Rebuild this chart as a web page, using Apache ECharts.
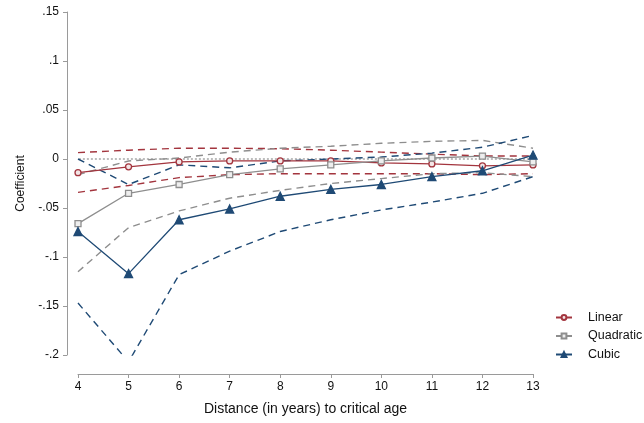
<!DOCTYPE html>
<html>
<head>
<meta charset="utf-8">
<script src="https://cdn.jsdelivr.net/npm/echarts@6/dist/echarts.min.js"></script>
<style>
  html, body { margin: 0; padding: 0; background: #fff; }
  #chart { width: 644px; height: 423px; }
</style>
</head>
<body>
<div id="chart"></div>
<script>
// Distance (years) to the critical age
const distance = [4, 5, 6, 7, 8, 9, 10, 11, 12, 13];

// Point estimates and confidence bounds for each specification
const linear   = [-0.014, -0.008, -0.003, -0.002, -0.002, -0.002, -0.004, -0.005, -0.007, -0.006];
const linearHi = [0.0065, 0.009, 0.011, 0.011, 0.0105, 0.009, 0.007, 0.005, 0.003, 0.003];
const linearLo = [-0.034, -0.027, -0.019, -0.016, -0.015, -0.015, -0.015, -0.015, -0.016, -0.015];

const quadratic   = [-0.066, -0.035, -0.026, -0.016, -0.010, -0.006, -0.002, 0.001, 0.003, -0.003];
const quadraticHi = [-0.016, -0.002, 0.001, 0.007, 0.011, 0.013, 0.016, 0.018, 0.019, 0.011];
const quadraticLo = [-0.115, -0.070, -0.053, -0.040, -0.032, -0.025, -0.020, -0.015, -0.014, -0.018];

const cubic   = [-0.074, -0.117, -0.062, -0.051, -0.038, -0.031, -0.026, -0.018, -0.012, 0.004];
const cubicHi = [0.000, -0.026, -0.006, -0.009, -0.002, 0.000, 0.002, 0.006, 0.012, 0.024];
const cubicLo = [-0.147, -0.207, -0.118, -0.094, -0.074, -0.062, -0.052, -0.044, -0.035, -0.018];

// Y tick labels from -.2 up to .15
const yTickLabels = ['-.2', '-.15', '-.1', '-.05', '0', '.05', '.1', '.15'];

const RED = '#A3353E';
const GRAY = '#8E8E8E';
const BLUE = '#1F4A75';
const FONT = 'Liberation Sans, Arial, sans-serif';

const pairs = (ys) => distance.map((x, i) => [x, ys[i]]);

function ciSeries(name, ys, color) {
  return {
    name: name,
    type: 'line',
    data: pairs(ys),
    symbol: 'none',
    silent: true,
    z: 2,
    lineStyle: { color: color, width: 1.4, type: [7, 5] }
  };
}

function estSeries(name, ys, color, symbol, size, fill) {
  return {
    name: name,
    type: 'line',
    data: pairs(ys),
    symbol: symbol,
    symbolSize: size,
    showSymbol: true,
    z: 3,
    lineStyle: { color: color, width: 1.3 },
    itemStyle: { color: fill, borderColor: color, borderWidth: 1.3 }
  };
}

const chart = echarts.init(document.getElementById('chart'), null, { renderer: 'canvas' });

chart.setOption({
  animation: false,
  backgroundColor: '#ffffff',
  textStyle: { fontFamily: FONT },
  grid: { left: 78, right: 111, top: 12, bottom: 68 },
  legend: {
    data: ['Linear', 'Quadratic', 'Cubic'],
    orient: 'vertical',
    left: 555,
    top: 311,
    padding: 0,
    itemWidth: 16,
    itemHeight: 6,
    itemGap: 5.5,
    textStyle: { fontFamily: FONT, fontSize: 12.5, color: '#111', padding: [0, 0, 0, 11] }
  },
  xAxis: {
    type: 'value',
    min: 4,
    max: 13,
    interval: 1,
    offset: 19,
    name: 'Distance (in years) to critical age',
    nameLocation: 'middle',
    nameGap: 28,
    nameTextStyle: { fontFamily: FONT, fontSize: 14, color: '#111' },
    axisLine: { show: true, onZero: false, lineStyle: { color: '#9a9a9a', width: 1 } },
    axisTick: { show: true, length: 4, lineStyle: { color: '#9a9a9a' } },
    axisLabel: { fontFamily: FONT, fontSize: 12, color: '#111', margin: 7 },
    splitLine: { show: false }
  },
  yAxis: {
    type: 'value',
    min: -0.2,
    max: 0.15,
    interval: 0.05,
    offset: 11,
    name: 'Coefficient',
    nameLocation: 'middle',
    nameGap: 40,
    nameRotate: 90,
    nameTextStyle: { fontFamily: FONT, fontSize: 12, color: '#111' },
    axisLine: { show: true, onZero: false, lineStyle: { color: '#9a9a9a', width: 1 } },
    axisTick: { show: true, length: 4, lineStyle: { color: '#9a9a9a' } },
    axisLabel: {
      fontFamily: FONT, fontSize: 12, color: '#111', margin: 8,
      formatter: (v) => yTickLabels[Math.round((v + 0.2) / 0.05)]
    },
    splitLine: { show: false }
  },
  series: [
    // reference line at zero, running across the whole plot region
    {
      name: 'zero',
      type: 'line',
      data: [[3.78, 0], [13.2, 0]],
      symbol: 'none',
      silent: true,
      clip: false,
      z: 1,
      lineStyle: { color: '#9a9a9a', width: 1.3, type: [2, 2] }
    },
    ciSeries('Linear CI high', linearHi, RED),
    ciSeries('Linear CI low', linearLo, RED),
    ciSeries('Quadratic CI high', quadraticHi, GRAY),
    ciSeries('Quadratic CI low', quadraticLo, GRAY),
    ciSeries('Cubic CI high', cubicHi, BLUE),
    ciSeries('Cubic CI low', cubicLo, BLUE),
    estSeries('Linear', linear, RED, 'circle', 6, '#f3e6e7'),
    estSeries('Quadratic', quadratic, GRAY, 'rect', 6, '#eeeeee'),
    estSeries('Cubic', cubic, BLUE, 'triangle', 8, BLUE)
  ]
});
</script>
</body>
</html>
